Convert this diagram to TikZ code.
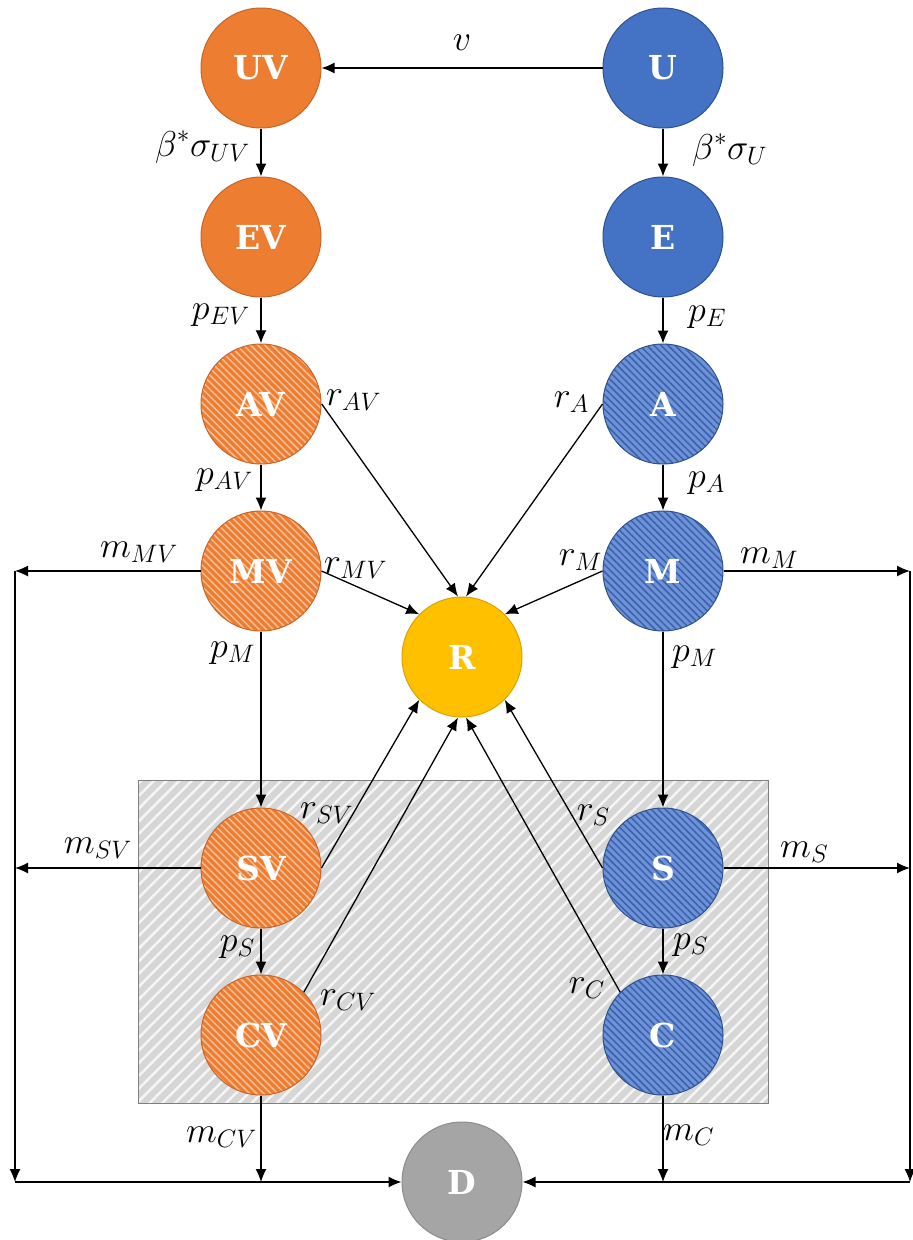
\documentclass[tikz,border=0pt]{standalone}
\usepackage{fix-cm}
\usepackage{fontspec}
\newfontfamily\nodefont{DejaVu Serif}
\usetikzlibrary{arrows.meta,patterns,patterns.meta}
\definecolor{vorange}{HTML}{ED7D31}
\definecolor{vorangedark}{HTML}{C8652A}
\definecolor{vorangelight}{HTML}{F6BE96}
\definecolor{vblue}{HTML}{4472C4}
\definecolor{vbluedark}{HTML}{2F528F}
\definecolor{vbluehatch}{HTML}{6E92D6}
\definecolor{vbluestripe}{HTML}{3A60AE}
\definecolor{vgold}{HTML}{FFC000}
\definecolor{vgolddark}{HTML}{D9A300}
\definecolor{vgray}{HTML}{A5A5A5}
\definecolor{vgraydark}{HTML}{8C8C8C}
\definecolor{boxfill}{HTML}{D6D6D6}
\definecolor{boxline}{HTML}{7F7F7F}
\begin{document}
\begin{tikzpicture}[x=1pt,y=-1pt,
  comp/.style={circle,minimum size=120pt,inner sep=0pt,line width=1pt,
    font=\nodefont\bfseries\fontsize{33}{38}\selectfont,text=white},
  orangec/.style={comp,fill=vorange,draw=vorangedark},
  bluec/.style={comp,fill=vblue,draw=vbluedark},
  orangeh/.style={comp,draw=vorangedark,preaction={fill=vorange},
    pattern={Lines[angle=-45,distance=5pt,line width=1.5pt]},pattern color=vorangelight},
  blueh/.style={comp,draw=vbluedark,preaction={fill=vbluehatch},
    pattern={Lines[angle=-45,distance=5pt,line width=1.5pt]},pattern color=vbluestripe},
  goldc/.style={comp,fill=vgold,draw=vgolddark},
  grayc/.style={comp,fill=vgray,draw=vgraydark},
  flow/.style={-{Latex[length=13pt,width=11pt]},line width=1.3pt,black},
  lbl/.style={font=\fontsize{36}{40}\selectfont,inner sep=0pt}
]
\useasboundingbox (0,0) rectangle (913,1240);
\fill[white] (0,0) rectangle (913,1240);

% shaded box
\node[draw=boxline,line width=1pt,preaction={fill=boxfill},
  pattern={Lines[angle=45,distance=9pt,line width=2.5pt]},pattern color=white!75!boxfill,
  minimum width=630pt,minimum height=323pt,inner sep=0pt] (box) at (453,941.5) {};

% compartments
\node[orangec] (UV) at (261,68) {UV};
\node[bluec]   (U)  at (663,68) {U};
\node[orangec] (EV) at (261,237) {EV};
\node[bluec]   (E)  at (663,237) {E};
\node[orangeh] (AV) at (261,404) {AV};
\node[blueh]   (A)  at (663,404) {A};
\node[orangeh] (MV) at (261,571) {MV};
\node[blueh]   (M)  at (663,571) {M};
\node[goldc]   (R)  at (462,657) {R};
\node[orangeh] (SV) at (261,868) {SV};
\node[blueh]   (S)  at (663,868) {S};
\node[orangeh] (CV) at (261,1035) {CV};
\node[blueh]   (C)  at (663,1035) {C};
\node[grayc]   (D)  at (462,1182) {D};

% corner coordinates
\coordinate (LT) at (15,571);
\coordinate (LS) at (15,868);
\coordinate (LB) at (15,1182);
\coordinate (CVB) at (261,1182);
\coordinate (RT) at (910,571);
\coordinate (RS) at (910,868);
\coordinate (RB) at (910,1182);
\coordinate (CB) at (663,1182);

% vertical progressions
\draw[flow] (U) -- (UV);
\draw[flow] (UV) -- (EV);
\draw[flow] (EV) -- (AV);
\draw[flow] (AV) -- (MV);
\draw[flow] (MV) -- (SV);
\draw[flow] (SV) -- (CV);
\draw[flow] (U) -- (E);
\draw[flow] (E) -- (A);
\draw[flow] (A) -- (M);
\draw[flow] (M) -- (S);
\draw[flow] (S) -- (C);

% recovery
\draw[flow] (AV.east) -- ([xshift=-4pt]R.north);
\draw[flow] (A.west) -- ([xshift=4pt]R.north);
\draw[flow] (MV.east) -- (R.north west);
\draw[flow] (M.west) -- (R.north east);
\draw[flow] (SV.east) -- (R.south west);
\draw[flow] (CV.north east) -- ([xshift=-4pt]R.south);
\draw[flow] (S.west) -- (R.south east);
\draw[flow] (C.north west) -- ([xshift=4pt]R.south);

% mortality
\draw[flow] (MV.west) -- (LT);
\draw[flow] (SV.west) -- (LS);
\draw[flow] (LT) -- (LB);
\draw[flow] (LB) -- (D.west);
\draw[flow] (CV.south) -- (CVB);
\draw[flow] (M.east) -- (RT);
\draw[flow] (S.east) -- (RS);
\draw[flow] (RT) -- (RB);
\draw[flow] (RB) -- (D.east);
\draw[flow] (C.south) -- (CB);

% labels
\node[lbl] (lv) at (462,43) {$v$};
\node[lbl,anchor=east] (lbuv) at (250,147) {$\beta^*\sigma_{UV}$};
\node[lbl,anchor=west] (lbu) at (692,150) {$\beta^*\sigma_{U}$};
\node[lbl,anchor=east] (lpev) at (250,315) {$p_{EV}$};
\node[lbl,anchor=west] (lpe) at (688,317) {$p_{E}$};
\node[lbl,anchor=west] (lrav) at (326,400) {$r_{AV}$};
\node[lbl,anchor=east] (lra) at (589,402) {$r_{A}$};
\node[lbl,anchor=east] (lpav) at (253,480) {$p_{AV}$};
\node[lbl,anchor=west] (lpa) at (688,483) {$p_{A}$};
\node[lbl,anchor=east] (lmmv) at (178,552) {$m_{MV}$};
\node[lbl,anchor=west] (lrmv) at (324,568) {$r_{MV}$};
\node[lbl,anchor=east] (lpmv) at (255,653) {$p_{M}$};
\node[lbl,anchor=east] (lrm) at (602,560) {$r_{M}$};
\node[lbl,anchor=west] (lmm) at (740,558) {$m_{M}$};
\node[lbl,anchor=west] (lpm) at (672,657) {$p_{M}$};
\node[lbl,anchor=west] (lrsv) at (300,813) {$r_{SV}$};
\node[lbl,anchor=east] (lmsv) at (132,848) {$m_{SV}$};
\node[lbl,anchor=east] (lpsv) at (255,947) {$p_{S}$};
\node[lbl,anchor=west] (lrcv) at (320,1000) {$r_{CV}$};
\node[lbl,anchor=east] (lmcv) at (257,1137) {$m_{CV}$};
\node[lbl,anchor=east] (lrs) at (610,815) {$r_{S}$};
\node[lbl,anchor=west] (lms) at (780,852) {$m_{S}$};
\node[lbl,anchor=west] (lps) at (673,945) {$p_{S}$};
\node[lbl,anchor=east] (lrc) at (605,988) {$r_{C}$};
\node[lbl,anchor=west] (lmc) at (663,1135) {$m_{C}$};
\end{tikzpicture}
\end{document}
